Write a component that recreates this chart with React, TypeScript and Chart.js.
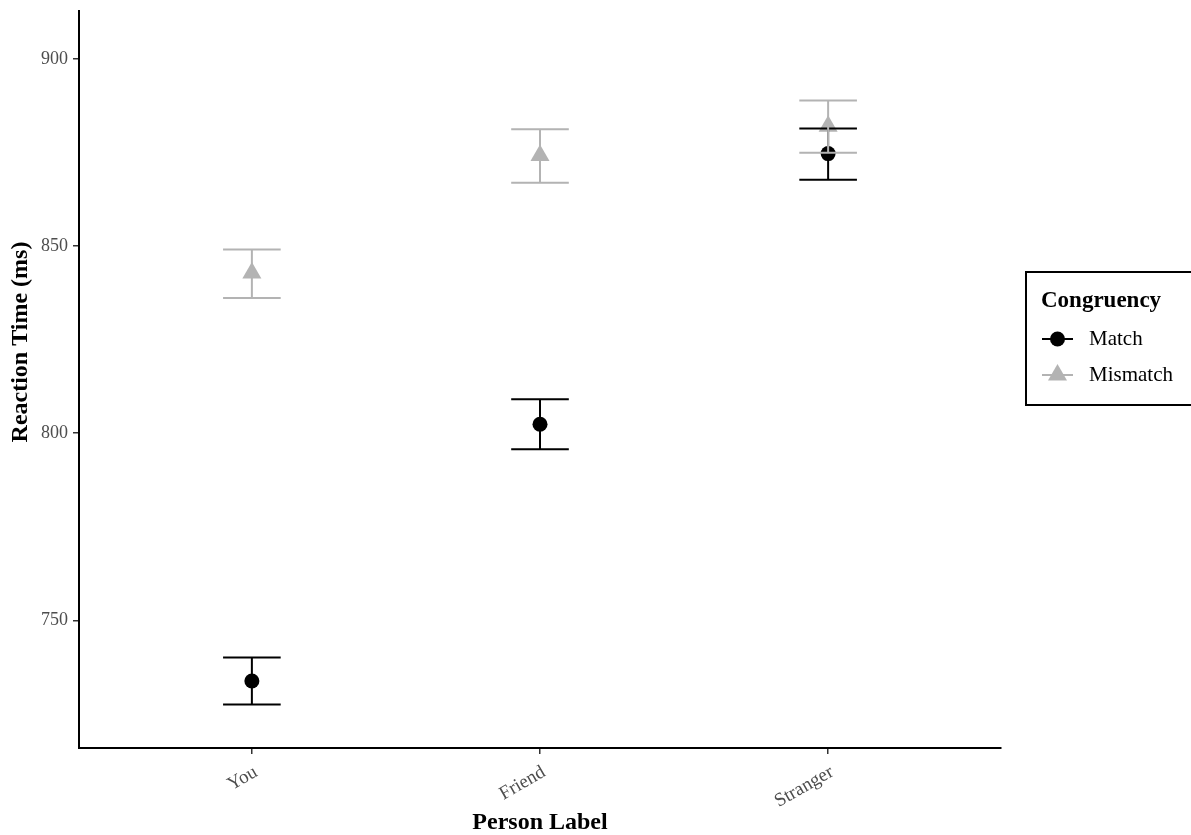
import React, { useEffect, useRef } from "react";
import { Chart, registerables } from "chart.js";
Chart.register(...registerables);

const categories = ["You", "Friend", "Stranger"];
const matchMean = [733.8, 802.4, 874.7];
const matchLower = [727.5, 795.7, 867.7];
const matchUpper = [740.1, 809.1, 881.4];
const mismatchMean = [842.8, 874.2, 882.0];
const mismatchLower = [836.1, 866.9, 874.9];
const mismatchUpper = [849.1, 881.2, 888.9];
const yTicks = [750, 800, 850, 900];
const seriesNames = ["Match", "Mismatch"];
const legendTitle = "Congruency";
const xTitle = "Person Label";
const yTitle = "Reaction Time (ms)";

const BLACK = "#000000";
const GRAY = "#b3b3b3";
const FONT = "'Liberation Serif', 'Times New Roman', serif";

const errorBarPlugin = {
  id: "errorBars",
  afterDatasetsDraw(chart: any) {
    const { ctx, scales } = chart;
    const x = scales.x;
    const y = scales.y;
    const groups = [
      { lo: matchLower, hi: matchUpper, color: BLACK },
      { lo: mismatchLower, hi: mismatchUpper, color: GRAY },
    ];
    ctx.save();
    ctx.lineWidth = 2;
    ctx.lineCap = "butt";
    groups.forEach((g) => {
      ctx.strokeStyle = g.color;
      g.lo.forEach((lo, i) => {
        const cx = x.getPixelForValue(i + 1);
        const xl = x.getPixelForValue(i + 1 - 0.1);
        const xr = x.getPixelForValue(i + 1 + 0.1);
        const yl = y.getPixelForValue(lo);
        const yh = y.getPixelForValue(g.hi[i]);
        ctx.beginPath();
        ctx.moveTo(xl, yh);
        ctx.lineTo(xr, yh);
        ctx.moveTo(cx, yh);
        ctx.lineTo(cx, yl);
        ctx.moveTo(xl, yl);
        ctx.lineTo(xr, yl);
        ctx.stroke();
      });
    });
    ctx.restore();
  },
};

const legendPlugin = {
  id: "customLegend",
  afterDraw(chart: any) {
    const { ctx } = chart;
    const left = chart.chartArea.right + 25;
    const top = 272;
    ctx.save();
    // y-axis title (centred on the original, taller panel)
    ctx.translate(21, top + 70);
    ctx.rotate(-Math.PI / 2);
    ctx.fillStyle = BLACK;
    ctx.font = `bold 24px ${FONT}`;
    ctx.textAlign = "center";
    ctx.textBaseline = "middle";
    ctx.fillText(yTitle, 0, 0);
    ctx.restore();

    ctx.save();
    ctx.strokeStyle = BLACK;
    ctx.lineWidth = 2;
    ctx.strokeRect(left, top, 220, 133);
    ctx.fillStyle = BLACK;
    ctx.font = `bold 23px ${FONT}`;
    ctx.textBaseline = "alphabetic";
    ctx.textAlign = "left";
    ctx.fillText(legendTitle, left + 15, top + 35);
    const items = [
      { name: seriesNames[0], color: BLACK, style: "circle" },
      { name: seriesNames[1], color: GRAY, style: "triangle" },
    ];
    items.forEach((it, i) => {
      const cy = top + 67 + i * 36;
      const kx0 = left + 16;
      const kx1 = left + 47;
      ctx.strokeStyle = it.color;
      ctx.fillStyle = it.color;
      ctx.lineWidth = 2;
      ctx.beginPath();
      ctx.moveTo(kx0, cy);
      ctx.lineTo(kx1, cy);
      ctx.stroke();
      const kc = (kx0 + kx1) / 2;
      ctx.beginPath();
      if (it.style === "circle") {
        ctx.arc(kc, cy, 7.5, 0, Math.PI * 2);
      } else {
        const r = 11;
        ctx.moveTo(kc, cy - r);
        ctx.lineTo(kc + r * Math.sin((2 * Math.PI) / 3), cy + r / 2);
        ctx.lineTo(kc - r * Math.sin((2 * Math.PI) / 3), cy + r / 2);
        ctx.closePath();
      }
      ctx.fill();
      ctx.fillStyle = BLACK;
      ctx.font = `21px ${FONT}`;
      ctx.textBaseline = "middle";
      ctx.fillText(it.name, left + 63, cy);
    });
    ctx.restore();
  },
};

export default function App() {
  const ref = useRef<HTMLCanvasElement | null>(null);
  useEffect(() => {
    if (!ref.current) return;
    const chart = new Chart(ref.current, {
      type: "scatter",
      data: {
        datasets: [
          {
            label: seriesNames[0],
            data: matchMean.map((v, i) => ({ x: i + 1, y: v })),
            pointStyle: "circle",
            pointRadius: 7.5,
            pointBorderWidth: 0,
            backgroundColor: BLACK,
            borderColor: BLACK,
            showLine: false,
          },
          {
            label: seriesNames[1],
            data: mismatchMean.map((v, i) => ({ x: i + 1, y: v })),
            pointStyle: "triangle",
            pointRadius: 11,
            pointBorderWidth: 0,
            backgroundColor: GRAY,
            borderColor: GRAY,
            showLine: false,
          },
        ],
      },
      options: {
        animation: false,
        responsive: true,
        maintainAspectRatio: false,
        layout: { padding: { left: 0, top: 10, right: 190, bottom: 0 } },
        plugins: {
          legend: { display: false },
          tooltip: { enabled: false },
        },
        scales: {
          x: {
            type: "linear",
            min: 0.4,
            max: 3.6,
            afterBuildTicks: (s: any) => {
              s.ticks = categories.map((_, i) => ({ value: i + 1 }));
            },
            afterFit: (s: any) => {
              s.height = 87;
              s.paddingLeft = 0;
              s.paddingRight = 0;
            },
            ticks: {
              autoSkip: false,
              minRotation: 30,
              maxRotation: 30,
              padding: 7,
              labelOffset: 4,
              color: "#4d4d4d",
              font: { family: FONT, size: 19 },
              callback: (v: any) => categories[Math.round(v) - 1] ?? "",
            },
            grid: {
              display: true,
              drawOnChartArea: false,
              drawTicks: true,
              tickLength: 6,
              color: "#333333",
              lineWidth: 1.5,
            },
            border: { display: true, color: BLACK, width: 2 },
            title: {
              display: true,
              text: xTitle,
              color: BLACK,
              font: { family: FONT, size: 24, weight: "bold", lineHeight: 1 },
              padding: { top: 0, bottom: 0 },
            },
          },
          y: {
            type: "linear",
            min: 715.9,
            max: 912.8,
            afterBuildTicks: (s: any) => {
              s.ticks = yTicks.map((v) => ({ value: v }));
            },
            afterFit: (s: any) => {
              s.width = 79;
              s.paddingTop = 0;
              s.paddingBottom = 0;
            },
            ticks: {
              padding: 5,
              color: "#4d4d4d",
              font: { family: FONT, size: 18 },
            },
            grid: {
              display: true,
              drawOnChartArea: false,
              drawTicks: true,
              tickLength: 6,
              color: "#333333",
              lineWidth: 1.5,
            },
            border: { display: true, color: BLACK, width: 2 },
            title: { display: false },
          },
        },
      },
      plugins: [errorBarPlugin, legendPlugin],
    });
    return () => chart.destroy();
  }, []);
  return (
    <div style={{ position: "fixed", left: 0, top: 0, width: 1191, height: 835, background: "#ffffff" }}>
      <canvas ref={ref} />
    </div>
  );
}
